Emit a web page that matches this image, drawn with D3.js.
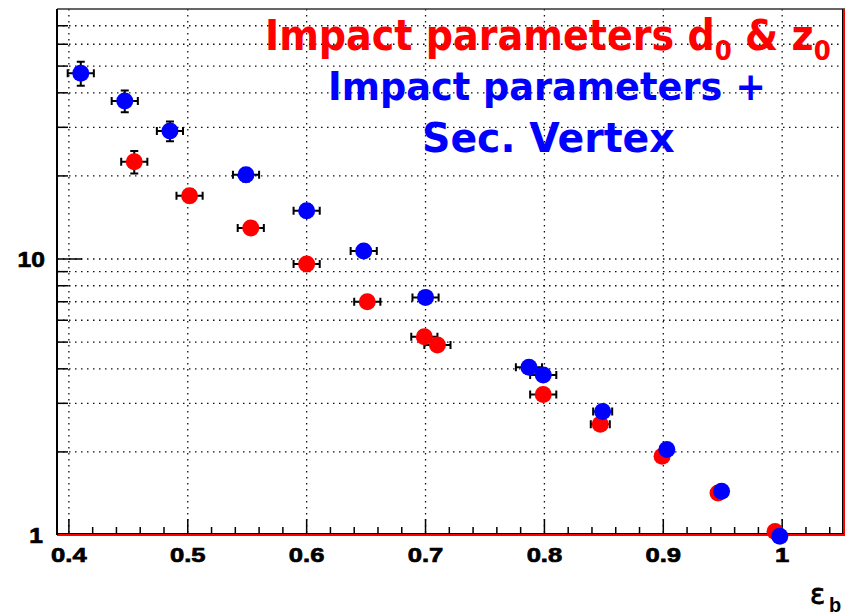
<!DOCTYPE html>
<html>
<head>
<meta charset="utf-8">
<script src="https://cdn.jsdelivr.net/npm/d3@7"></script>
<style>
  body { margin: 0; background: #fff; }
  svg { display: block; }
</style>
</head>
<body>
<div id="chart"></div>
<script>
// impact parameters d0 & z0 (red)
const redX = [0.455, 0.5015, 0.553, 0.600, 0.651, 0.699, 0.710, 0.799, 0.847, 0.899, 0.946, 0.994];
const redY = [22.5, 16.96, 12.95, 9.59, 7.00, 5.23, 4.88, 3.23, 2.52, 1.93, 1.42, 1.03];
const redXErr = [0.011, 0.011, 0.011, 0.011, 0.011, 0.011, 0.011, 0.011, 0.008, 0.005, 0.004, 0.004];
const redYErr = [2.1, 0.9, 0.6, 0.45, 0.3, 0.22, 0.2, 0.12, 0.1, 0.07, 0.05, 0.03];

// impact parameters + sec. vertex (blue)
const blueX = [0.410, 0.447, 0.485, 0.549, 0.600, 0.648, 0.700, 0.787, 0.799, 0.849, 0.903, 0.949, 0.998];
const blueY = [47.1, 37.4, 29.1, 20.2, 14.96, 10.7, 7.26, 4.05, 3.80, 2.80, 2.04, 1.44, 0.99];
const blueXErr = [0.011, 0.011, 0.011, 0.011, 0.011, 0.011, 0.011, 0.011, 0.011, 0.008, 0.005, 0.004, 0.004];
const blueYErr = [4.7, 3.4, 2.4, 1.1, 0.8, 0.5, 0.35, 0.2, 0.18, 0.13, 0.08, 0.05, 0.03];

const xMajor = [0.4, 0.5, 0.6, 0.7, 0.8, 0.9, 1.0];
const xLabels = ['0.4', '0.5', '0.6', '0.7', '0.8', '0.9', '1'];
const yGrid = [2, 3, 4, 5, 6, 7, 8, 9, 10, 20, 30, 40, 50, 60, 70];
const yLabels = [1, 10];

const width = 848;
const height = 616;
const frame = { left: 57, right: 844, top: 9, bottom: 535 };

const x = d3.scaleLinear().domain([0.39, 1.052]).range([frame.left, frame.right]);
const y = d3.scaleLog().domain([1, 80.5]).range([frame.bottom, frame.top]);

const svg = d3.select('#chart')
  .append('svg')
  .attr('width', width)
  .attr('height', height);

svg.append('rect').attr('width', width).attr('height', height).attr('fill', '#fff');

// dotted grid
const grid = svg.append('g')
  .attr('stroke', '#111')
  .attr('stroke-width', 1.3)
  .attr('stroke-dasharray', '1.5,4.5');
grid.selectAll('line.h')
  .data(yGrid)
  .join('line')
  .attr('class', 'h')
  .attr('x1', frame.left).attr('x2', frame.right)
  .attr('y1', d => y(d)).attr('y2', d => y(d));
grid.selectAll('line.v')
  .data(xMajor)
  .join('line')
  .attr('class', 'v')
  .attr('x1', d => x(d)).attr('x2', d => x(d))
  .attr('y1', frame.top).attr('y2', frame.bottom);

// ticks (inside the frame, ROOT style)
const xMinor = d3.range(0, 33).map(i => 0.40 + i * 0.02).filter(v => v <= 1.05);
const ticks = svg.append('g').attr('stroke', '#000').attr('stroke-width', 1.5);
ticks.selectAll('line.xt')
  .data(xMinor)
  .join('line')
  .attr('x1', d => x(d)).attr('x2', d => x(d))
  .attr('y1', frame.bottom)
  .attr('y2', (d, i) => frame.bottom - (i % 5 === 0 ? 16 : 8));
ticks.selectAll('line.yt')
  .data(yGrid)
  .join('line')
  .attr('y1', d => y(d)).attr('y2', d => y(d))
  .attr('x1', frame.left)
  .attr('x2', d => frame.left + (d === 10 ? 25 : 11));

// frame
svg.append('line').attr('x1', frame.left).attr('x2', frame.right + 1)
  .attr('y1', frame.top).attr('y2', frame.top)
  .attr('stroke', '#333').attr('stroke-width', 1.5);
svg.append('line').attr('x1', frame.right - 1.5).attr('x2', frame.right - 1.5)
  .attr('y1', frame.top).attr('y2', frame.bottom)
  .attr('stroke', '#000').attr('stroke-width', 1);
svg.append('line').attr('x1', frame.right).attr('x2', frame.right)
  .attr('y1', frame.top).attr('y2', frame.bottom + 1)
  .attr('stroke', '#f00').attr('stroke-width', 2);
svg.append('line').attr('x1', frame.left).attr('x2', frame.right)
  .attr('y1', frame.bottom - 1.5).attr('y2', frame.bottom - 1.5)
  .attr('stroke', '#000').attr('stroke-width', 1);
svg.append('line').attr('x1', frame.left).attr('x2', frame.right + 1)
  .attr('y1', frame.bottom).attr('y2', frame.bottom)
  .attr('stroke', '#f00').attr('stroke-width', 2);
svg.append('line').attr('x1', frame.left).attr('x2', frame.left)
  .attr('y1', frame.top).attr('y2', frame.bottom)
  .attr('stroke', '#000').attr('stroke-width', 2);

// tick labels
const labelFont = '"Liberation Sans", Arial, Helvetica, sans-serif';
svg.selectAll('text.xl')
  .data(xMajor)
  .join('text')
  .attr('transform', d => `translate(${x(d)},562) scale(1.22,1)`)
  .attr('text-anchor', 'middle')
  .attr('font-family', labelFont)
  .attr('font-weight', 'bold')
  .attr('font-size', 21)
  .attr('stroke', '#000').attr('stroke-width', 0.7)
  .text((d, i) => xLabels[i]);
svg.selectAll('text.yl')
  .data(yLabels)
  .join('text')
  .attr('transform', d => `translate(${d === 1 ? 43 : 45},${y(d) + 8}) scale(1.12,1)`)
  .attr('text-anchor', 'end')
  .attr('font-family', labelFont)
  .attr('font-weight', 'bold')
  .attr('font-size', 22)
  .attr('stroke', '#000').attr('stroke-width', 0.7)
  .text(d => d);

// axis title
svg.append('text').attr('x', 810).attr('y', 604)
  .attr('font-family', '"DejaVu Sans", sans-serif').attr('font-size', 28)
  .attr('stroke', '#000').attr('stroke-width', 0.8)
  .text('\u03b5');
svg.append('text').attr('x', 829).attr('y', 612)
  .attr('font-family', labelFont).attr('font-weight', 'bold').attr('font-size', 20)
  .text('b');

// data with error bars
function drawSeries(xs, ys, dxs, dys, color) {
  const pts = xs.map((v, i) => ({ x: v, y: ys[i], dx: dxs[i], dy: dys[i] }));
  const g = svg.append('g');
  const eb = g.append('g').attr('stroke', '#000').attr('stroke-width', 2);
  eb.selectAll('path.ex')
    .data(pts)
    .join('path')
    .attr('d', d => {
      const x0 = x(d.x - d.dx), x1 = x(d.x + d.dx), yy = y(d.y);
      return `M${x0},${yy}H${x1}M${x0},${yy - 4}V${yy + 4}M${x1},${yy - 4}V${yy + 4}`;
    });
  eb.selectAll('path.ey')
    .data(pts)
    .join('path')
    .attr('d', d => {
      const xx = x(d.x), y0 = y(d.y + d.dy), y1 = y(Math.max(d.y - d.dy, 0.5));
      return `M${xx},${y0}V${y1}M${xx - 4},${y0}H${xx + 4}M${xx - 4},${y1}H${xx + 4}`;
    });
  g.selectAll('circle')
    .data(pts)
    .join('circle')
    .attr('cx', d => x(d.x))
    .attr('cy', d => y(d.y))
    .attr('r', 8.5)
    .attr('fill', color);
}
drawSeries(redX, redY, redXErr, redYErr, '#ff0000');
drawSeries(blueX, blueY, blueXErr, blueYErr, '#0000ff');

// legend text, stretched to the reference widths
const legendFont = '"DejaVu Sans", sans-serif';
function fitText(sel, x0, x1) {
  const bb = sel.node().getBBox();
  const k = (x1 - x0) / bb.width;
  sel.attr('transform', `translate(${x0},0) scale(${k},1) translate(${-bb.x},0)`);
}
const t1 = svg.append('text').attr('x', 0).attr('y', 50)
  .attr('font-family', legendFont).attr('font-weight', 'bold').attr('font-size', 42)
  .attr('fill', '#ff0000');
t1.append('tspan').text('Impact parameters d');
t1.append('tspan').attr('font-size', 27).attr('dy', 10).text('0');
t1.append('tspan').attr('dy', -10).text(' & z');
t1.append('tspan').attr('font-size', 27).attr('dy', 10).text('0');
fitText(t1, 265, 831);

const t2 = svg.append('text').attr('x', 0).attr('y', 100)
  .attr('font-family', legendFont).attr('font-weight', 'bold').attr('font-size', 39)
  .attr('fill', '#0000ff')
  .text('Impact parameters +');
fitText(t2, 328, 766);

const t3 = svg.append('text').attr('x', 0).attr('y', 152)
  .attr('font-family', legendFont).attr('font-weight', 'bold').attr('font-size', 40)
  .attr('fill', '#0000ff')
  .text('Sec. Vertex');
fitText(t3, 422, 675);
</script>
</body>
</html>
